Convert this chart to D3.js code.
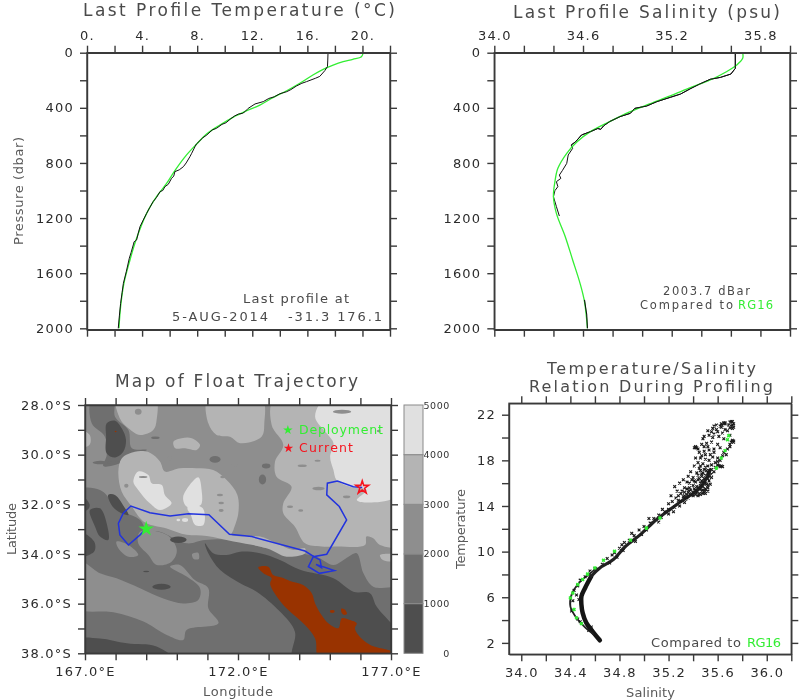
<!DOCTYPE html>
<html><head><meta charset="utf-8">
<script src="https://cdn.jsdelivr.net/npm/d3@7"></script>
<style>
html,body{margin:0;padding:0;background:#fff;}
svg{display:block;filter:blur(0.45px);}
text{font-family:"DejaVu Sans",sans-serif;}
.tick text{font-size:13px;letter-spacing:1.2px;fill:#2b2b2b;font-family:"DejaVu Sans",sans-serif;}
.tick line,.domain{stroke:#3a3a3a;stroke-width:1.4px;}
</style></head><body>
<svg id="chart" width="800" height="700"></svg>
<script>
// ---- profile data: temperature panel (value, pressure)
const tempObserved=[[17.5,0],[17.48,60],[17.46,100],[17.27,130],[16.9,172],[16.6,185],[15.94,210],[15.6,222],[15.2,242],[14.8,268],[14.5,283],[14.0,298],[13.6,320],[13.2,332],[12.8,355],[12.2,372],[11.7,404],[11.5,425],[11.3,440],[11.0,445],[10.7,460],[10.4,482],[10.1,508],[9.8,520],[9.4,549],[9.1,560],[8.7,597],[8.4,618],[8.2,638],[7.95,662],[7.84,682],[7.6,730],[7.47,755],[7.2,800],[7,827],[6.7,850],[6.38,863],[6.3,895],[6.14,912],[5.9,955],[5.66,972],[5.5,1000],[5.3,1008],[5.05,1050],[4.8,1081],[4.55,1125],[4.33,1166],[4.08,1215],[3.85,1262],[3.72,1310],[3.6,1359],[3.42,1372],[3.36,1395],[3.2,1450],[3.07,1492],[2.85,1590],[2.64,1674],[2.55,1740],[2.44,1819],[2.35,1910],[2.27,2000]];
const tempReference=[[20.05,0],[19.93,29],[19.3,48],[18.6,65],[17.87,90],[17.15,121],[16.4,162],[15.45,222],[14.5,276],[13.5,326],[12.55,380],[11.6,421],[10.6,469],[9.65,525],[8.68,590],[7.96,663],[7.23,742],[6.38,856],[5.78,948],[5.05,1045],[4.33,1166],[3.6,1347],[3.12,1504],[2.68,1674],[2.44,1843],[2.32,2000]];
// ---- profile data: salinity panel (value, pressure)
const salObservedUpper=[[35.63,0],[35.63,114],[35.6,155],[35.53,179],[35.46,193],[35.39,227],[35.33,259],[35.26,300],[35.19,324],[35.1,355],[35.03,387],[34.95,404],[34.92,440],[34.85,464],[34.78,500],[34.74,530],[34.72,556],[34.70,550],[34.65,573],[34.59,597],[34.55,646],[34.52,670],[34.53,694],[34.5,742],[34.49,803],[34.46,856],[34.44,888],[34.45,912],[34.42,936],[34.43,972],[34.41,1001],[34.4,1045],[34.42,1117],[34.44,1185]];
const salObservedDeep=[[34.61,1794],[34.625,1900],[34.63,2000]];
const salReference=[[35.68,0],[35.68,41],[35.64,89],[35.57,138],[35.46,198],[35.33,252],[35.19,314],[35.05,372],[34.92,428],[34.78,500],[34.65,573],[34.56,646],[34.49,730],[34.43,839],[34.41,936],[34.4,1045],[34.42,1166],[34.48,1335],[34.53,1504],[34.58,1674],[34.61,1806],[34.63,2000]];
// ---- axis ticks
const tempTicks=[0,2,4,6,8,10,12,14,16,18,20,22], tempLabels=[0,4,8,12,16,20];
const salTicks=[34,34.2,34.4,34.6,34.8,35,35.2,35.4,35.6,35.8,36], salLabels=[34,34.6,35.2,35.8];
const pressTicks=[0,200,400,600,800,1000,1200,1400,1600,1800,2000], pressLabels=[0,400,800,1200,1600,2000];
const lonTicks=[167,168,169,170,171,172,173,174,175,176,177], lonLabels=[167,172,177];
const latTicks=[28,29,30,31,32,33,34,35,36,37,38], latLabels=[28,30,32,34,36,38];
const tsSalTicks=[34,34.2,34.4,34.6,34.8,35,35.2,35.4,35.6,35.8,36,36.2], tsSalLabels=[34,34.4,34.8,35.2,35.6,36];
const tsTempTicks=[2,4,6,8,10,12,14,16,18,20,22], tsTempLabels=[2,6,10,14,18,22];
// ---- bathymetry (lon, south lat)
const depthLevels=[0,1000,2000,3000,4000,5000];
const levelColors=['#4e4e4e','#6f6f6f','#8e8e8e','#b4b4b4','#e0e0e0'];
const band1000Large=[[[166.7,31.49],[167.49,31.42],[167.98,32.03],[168.27,32.3],[168.8,32.63],[169.02,33.03],[169.45,33.1],[170.32,33.57],[170.92,33.44],[171.85,33.44],[172.94,33.77],[174.03,33.97],[174.57,34.11],[175.12,34.44],[175.61,34.11],[175.88,33.97],[176.1,34.78],[176.42,35.32],[177.3,35.45],[177.3,38.3],[166.7,38.3]],
 [[167.22,27.8],[167.93,27.8],[167.98,28.47],[168.42,29.01],[168.53,29.74],[169.02,29.81],[168.53,30.01],[168.14,30.35],[167.6,30.46],[167.71,30.01],[167.65,29.28],[167.22,28.74]]];
const band2000Patches=[[[166.7,34.2],[167.49,34.78],[168.03,34.98],[168.8,35.38],[169.56,35.79],[170.21,35.99],[170.7,35.85],[170.76,35.38],[170.32,34.91],[169.78,34.51],[170.1,34.44],[170.59,35.05],[171.03,35.38],[171.03,36.19],[171.36,36.79],[170.32,37.06],[170.21,37.46],[169.67,37.26],[168.91,36.72],[167.93,36.35],[166.7,36.15]],
 [[168.8,33.1],[169.67,33.23],[170,33.84],[169.83,34.31],[169.34,34.44],[169.07,34.04],[168.74,33.57]],
 [[168.03,33.5],[168.42,33.64],[168.74,34.04],[168.42,34.11],[168.09,33.77]],
 [[170.5,34.0],[170.7,33.95],[170.72,34.2],[170.55,34.2]]];
const band3000Regions=[[[173.21,27.7],[173.1,28.81],[173.48,29.61],[173.21,30.28],[173.26,30.89],[173.75,31.29],[173.48,31.96],[173.48,32.36],[173.86,32.9],[174.19,33.57],[174.73,33.7],[175.22,33.7],[176.15,33.64],[176.2,33.3],[176.42,33.37],[176.64,33.64],[177.3,33.64],[177.3,27.7]],
 [[171.03,27.7],[172.77,27.7],[172.86,28.74],[172.77,29.28],[172.07,29.54],[171.74,29.28],[171.3,29.21],[171.03,28.74]],
 [[169.89,29.48],[170.16,29.34],[170.49,29.34],[170.76,29.61],[170.65,29.81],[170.27,29.74],[169.95,29.74]],
 [[168.03,27.7],[169.29,27.7],[169.34,28.6],[169.23,29.01],[168.8,29.21],[168.42,28.94],[168.14,28.54]],
 [[166.8,29],[167.15,29.2],[167.15,29.6],[166.8,29.7]],
 [[176.64,34.05],[177.2,34.05],[177.2,34.25],[176.75,34.25]],
 [[168.09,30.68],[168.2,30.15],[168.63,29.88],[169.12,29.92],[169.45,30.28],[169.61,30.68],[170.1,30.55],[170.65,30.55],[171.19,30.62],[171.63,31.02],[171.98,31.62],[172.01,32.36],[171.85,33.03],[171.79,33.23],[172.72,33.3],[173.26,33.57],[173.81,33.84],[174.19,33.77],[174.19,33.97],[173.59,34.11],[172.94,33.77],[171.85,33.5],[170.98,33.28],[170.32,33.23],[169.67,32.97],[169.02,32.77],[168.8,32.56],[168.53,32.09],[168.2,31.49]]];
const band4000Regions=[[[174.9,27.7],[174.52,28.47],[174.9,29.14],[175.12,29.54],[175.01,30.08],[175.12,30.62],[175.22,31.02],[175.66,31.29],[176.2,31.42],[175.88,31.83],[176.2,31.93],[177.3,31.56],[177.3,27.7]],
 [[168.58,31.09],[168.74,30.68],[169.07,30.82],[169.18,31.15],[169.51,31.22],[169.61,31.62],[169.83,31.96],[169.45,32.23],[169.12,31.96],[168.74,31.42]],
 [[170.21,31.69],[170.7,30.91],[170.81,31.42],[170.78,32.03],[170.32,32.09]],
 [[170.38,32.03],[170.85,32.16],[170.87,32.83],[170.6,32.83],[170.45,32.4],[170.35,32.2]]];
const band0Regions=[[[170.92,33.57],[171.19,33.97],[171.63,34.04],[172.07,33.91],[172.72,33.97],[173.37,34.24],[174.03,34.64],[175.12,34.98],[175.77,35.52],[176.31,35.58],[176.53,36.12],[177.3,37.33],[177.3,38.3],[173.81,38.3],[173.86,37.13],[173.37,36.32],[172.61,35.52],[172.07,35.18],[171.41,34.64],[171.03,33.97]],
 [[166.7,37.46],[167.49,37.4],[168.37,37.6],[169.34,37.73],[169.95,38.3],[166.7,38.3]],
 [[167.71,28.74],[167.98,28.63],[168.2,28.94],[168.34,29.41],[168.25,29.88],[167.98,30.11],[167.71,29.95],[167.69,29.28]],
 [[167.76,31.62],[167.98,31.62],[168.31,32.16],[168.42,32.43],[168.1,32.3],[167.85,32]],
 [[167.16,32.23],[167.49,32.16],[167.71,32.77],[167.76,33.44],[167.49,33.3],[167.33,32.9]],
 [[166.8,31.56],[167.15,32],[167.1,32.2],[166.8,32.3]],
 [[166.8,33.1],[167.3,33.5],[167.3,33.9],[166.8,34.1]]];
const shallowLand=[[[172.66,34.54],[172.99,34.51],[173.15,34.85],[173.43,34.95],[173.7,35.09],[174.13,35.25],[174.41,35.58],[174.52,35.99],[174.73,36.46],[174.95,36.79],[175.28,36.99],[175.39,36.59],[175.66,36.66],[175.88,36.79],[175.82,36.99],[175.93,37.26],[176.31,37.66],[177.3,38.05],[177.3,38.3],[174.68,38.3],[174.52,37.4],[174.19,36.86],[173.48,36.05],[173.1,35.38],[173.05,35.18],[173.1,34.98],[172.83,34.78]],
 [[175.38,36.2],[175.5,36.25],[175.56,36.42],[175.45,36.45],[175.38,36.35]]];
const bathySpots=[[167.5,30.32,.25,.07,1],[171.25,30.19,.18,.14,1],[172.92,30.46,.14,.1,1],[172.8,31,.12,.2,1],[175.4,28.27,.3,.08,2],[170.05,33.43,.27,.13,0],[169.5,35.32,.3,.12,0],[169,34.71,.1,.03,0],[168.74,28.27,.11,.12,2],[171.41,31.62,.1,.05,2],[171.45,31.95,.09,.05,2],[171.45,32.25,.08,.06,2],[174.63,31.36,.2,.07,2],[174.1,30.45,.15,.05,2],[174.6,30.25,.1,.04,2],[175.55,31.7,.12,.06,2],[173.7,32.1,.1,.05,2],[174.05,32.25,.08,.05,2],[169.75,30.15,.08,.1,2],[168.9,30.9,.14,.04,2],[168.35,31.25,.07,.08,2],[171.5,30.9,.08,.05,2],[170.05,32.63,.06,.05,4],[170.27,32.63,.1,.08,4],[167.95,30.32,.18,.06,1],[169.3,29.32,.14,.05,1],[171.9,30.4,.1,.08,2],[176.6,29.05,.06,.05,2],[175.08,36.32,.08,.06,5],[168,29.07,.03,.03,5]];
// ---- float track (lon, south lat)
const trackPositions=[[169,32.99],[168.8,33.23],[168.42,33.64],[168.14,33.23],[168.09,32.77],[168.25,32.36],[168.5,32.07],[169.12,32.34],[169.78,32.47],[170.38,32.38],[171.05,32.42],[171.72,33.21],[172.45,33.3],[174.19,33.88],[174.48,34.11],[174.68,34.24],[174.73,34.55],[174.55,34.42],[175.15,34.67],[174.66,34.78],[174.3,34.51],[174.46,34.11],[174.9,34.01],[175.55,32.63],[175.31,32.09],[174.9,31.62],[174.92,31.15],[175.25,31.06],[175.77,31.29],[176.06,31.32]];
const deploymentPos=[169,32.99], currentPos=[176.06,31.32];
const legendDeployPos=[173.63,29.01], legendCurrentPos=[173.65,29.74];
// ---- T/S relation (salinity, temperature)
const tsColdCore=[[34.64,2.23],[34.59,2.88],[34.53,3.75],[34.5,4.63],[34.49,5.36],[34.49,6.09],[34.52,6.82],[34.57,7.84]];
const tsWarmCore=[[34.57,7.84],[34.64,8.57],[34.75,9.3],[34.85,10.47],[34.97,11.49],[35.1,12.8],[35.21,13.68],[35.32,14.55],[35.44,15.43],[35.51,16.45],[35.54,17.18]];
const tsBranch=[[34.59,2.73],[34.51,3.46],[34.44,4.34],[34.4,5.2],[34.41,6.23],[34.47,7.25],[34.55,8.0],[34.62,8.6]];
const tsProfiles=[[35.2,14.2],[35.23,14.4],[35.26,14.7],[35.22,14.9],[35.27,15.3],[35.25,15.7],[35.3,15.1],[35.32,14.8],[35.35,15],[35.38,15],[35.3,14.4],[35.34,14.6],[35.37,15.3],[35.33,15.6],[35.29,16],[35.32,16.3],[35.35,16.1],[35.4,15.2],[35.42,15.4],[35.45,15.1],[35.47,15.3],[35.5,15.5],[35.52,15.6],[35.48,15.7],[35.44,15.6],[35.4,15.8],[35.37,16],[35.42,16.1],[35.46,16],[35.5,16],[35.53,16.2],[35.49,16.4],[35.45,16.4],[35.4,16.5],[35.36,16.6],[35.38,17],[35.43,16.9],[35.47,16.8],[35.5,16.7],[35.52,16.9],[35.55,16.8],[35.57,17],[35.49,17.2],[35.45,17.3],[35.41,17.5],[35.44,17.8],[35.48,17.7],[35.52,17.5],[35.55,17.6],[35.62,17.45],[35.64,17.45],[35.46,18.2],[35.5,18.1],[35.53,18],[35.56,18.3],[35.6,18.2],[35.64,18.4],[35.67,18.5],[35.45,18.7],[35.49,18.8],[35.53,18.9],[35.57,19],[35.42,19.1],[35.43,19.1],[35.44,19],[35.47,19.4],[35.51,19.5],[35.55,19.6],[35.6,19.4],[35.62,19.1],[35.72,19.65],[35.73,19.7],[35.7,19.2],[35.48,19.9],[35.49,20.1],[35.53,20.2],[35.57,20.3],[35.61,20.1],[35.65,19.9],[35.7,20.2],[35.68,20.6],[35.52,20.6],[35.56,20.8],[35.59,20.7],[35.63,20.9],[35.57,21],[35.55,20.5],[35.65,21.3],[35.66,21.2],[35.64,21.1],[35.72,21.4],[35.71,21],[35.73,20.9],[35.7,20.85],[35.46,15.8],[35.43,15.2],[35.51,15.9],[35.49,15.2],[35.41,15.5],[35.47,16.2],[35.44,16.3],[35.52,16.4],[35.48,16.9],[35.5,17.4],[35.53,17.1],[35.46,17.1],[35.5,15.1],[35.44,14.9],[35.4,14.9],[35.36,14.7],[35.33,14.3],[35.29,14],[35.25,13.9],[35.2,13.7],[35.17,13.5],[35.12,13.2],[35.08,12.9],[35.14,13],[35.2,13.3],[35.05,12.5],[35,12.2],[34.96,11.9],[35.02,11.9],[34.92,11.4],[34.88,11],[34.84,10.8],[34.93,10.9],[34.8,10.3],[34.76,9.9],[34.83,10.1],[34.7,9.4],[34.78,9.5],[34.66,8.9],[34.72,9],[34.6,8.5],[34.56,8.3],[34.52,7.8],[34.48,7.5],[34.46,7],[34.43,6.6],[34.45,6.2],[34.47,5.8],[34.42,5.7],[34.41,4.8],[34.46,4.1],[34.48,3.85],[34.55,3.1],[34.57,3.4],[35.63,21.2],[35.72,19.75],[35.71,19.6],[35.63,17.5],[35.61,17.55],[35.42,19.2],[35.41,19.1],[35.7,21.35],[35.73,21.2],[35.46,15.5],[35.48,15.4],[35.5,15.3],[35.52,15.8],[35.49,16],[35.47,16.6],[35.51,17.1],[35.55,17.2],[35.53,16.6],[35.55,16.5],[35.43,15.7],[35.41,16.2],[35.44,16.7],[35.39,16.3],[35.37,15.6],[35.35,15.5],[35.33,15.2],[35.36,15.2],[35.31,15.3],[35.28,14.9],[35.28,14.5],[35.33,14.9],[35.38,15.4],[35.42,15],[35.46,15],[35.48,15.1],[35.52,15.3],[35.54,15.9],[35.46,17.5],[35.5,18.5],[35.54,18.5],[35.57,18.7],[35.58,17.8],[35.6,17.6],[35.52,19.2],[35.49,19.2],[35.56,20],[35.6,20.5],[35.64,20.4],[35.66,20.7],[35.59,21.1],[35.62,21],[35.69,21.1],[35.72,20.8],[35.72,21.1],[35.71,21.4],[35.66,21.3],[35.73,19.6],[35.7,19.4],[35.68,19],[35.65,18.7],[35.62,18],[35.6,17.9],[35.58,17.4],[35.42,18.2],[35.47,18.4],[35.15,13.7],[35.24,13.5],[35.12,12.6],[35.04,12.9],[34.98,11.5],[34.9,11.6],[34.82,10.6],[34.74,9.7]];
const tsReference=[[34.4,5.94],[34.42,6.38],[34.46,7.11],[34.5,7.55],[34.54,8.04],[34.6,8.57],[34.67,9.24],[34.76,10.03],[34.89,11],[35.02,12.07],[35.13,12.95],[35.59,17.33],[35.63,18.2],[35.66,18.85],[35.68,19.81],[35.69,20.16],[34.45,4.19],[34.49,3.69],[34.43,4.92]];

const svg=d3.select('#chart');
const GREEN='#33ee33', BLACK='#111', BLUE='#2233dd', RED='#f5141e';

function frame(g,x,y,xt,xl,yt,yl,xfmt,yfmt,labelSides){
  const fx=d=>xl.includes(d)?xfmt(d):'', fy=d=>yl.includes(d)?yfmt(d):'';
  const [x0,x1]=x.range(),[y0,y1]=[y.range()[0],y.range()[1]];
  const top=Math.min(y0,y1), bot=Math.max(y0,y1);
  const ax=(a,tr,f,vals)=>g.append('g').attr('transform',tr).call(a.tickValues(vals).tickSize(7).tickSizeOuter(0).tickPadding(6).tickFormat(f));
  ax(d3.axisTop(x),`translate(0,${top})`,labelSides.top?fx:()=>'',xt);
  ax(d3.axisBottom(x),`translate(0,${bot})`,labelSides.bottom?fx:()=>'',xt);
  ax(d3.axisLeft(y),`translate(${x0},0)`,fy,yt);
  ax(d3.axisRight(y),`translate(${x1},0)`,()=>'',yt);
  g.append('rect').attr('x',x0).attr('y',top).attr('width',x1-x0).attr('height',bot-top).attr('fill','none').attr('stroke','#3a3a3a').attr('stroke-width',1.4);
}
function label(t,x,y,w,opt={}){
  const e=svg.append('text').attr('x',x).attr('y',y).text(t)
    .attr('font-size',opt.size||13).attr('fill',opt.color||'#4a4a4a');
  if(w) e.attr('textLength',w).attr('lengthAdjust','spacing');
  if(opt.rotate) e.attr('transform',`rotate(-90 ${x} ${y})`);
  return e;
}
const profileLine=(x,y)=>d3.line().x(d=>x(d[0])).y(d=>y(d[1]));

// ---------- Panel 1: temperature
{
  const x=d3.scaleLinear([0,22],[87,390]), y=d3.scaleLinear([0,2010],[52.7,329.7]);
  const g=svg.append('g'), ln=profileLine(x,y), smooth=profileLine(x,y).curve(d3.curveCatmullRom);
  g.append('path').attr('d',smooth(tempReference)).attr('fill','none').attr('stroke',GREEN).attr('stroke-width',1.3);
  g.append('path').attr('d',ln(tempObserved)).attr('fill','none').attr('stroke',BLACK).attr('stroke-width',1);
  frame(g,x,y,tempTicks,tempLabels,pressTicks,pressLabels,d=>d+'.',d=>d,{top:true});
  label('Last Profile Temperature (°C)',83,16,312,{size:17});
  label('Pressure (dbar)',23,245,108,{size:13,color:'#5a5a5a',rotate:true});
  label('Last profile at',243,303,106,{size:13});
  label('5-AUG-2014   -31.3 176.1',172,321,210,{size:13}).attr('xml:space','preserve').style('white-space','pre');
}
// ---------- Panel 2: salinity
{
  const x=d3.scaleLinear([34,36],[494.3,790]), y=d3.scaleLinear([0,2010],[52.7,329.7]);
  const g=svg.append('g'), ln=profileLine(x,y), smooth=profileLine(x,y).curve(d3.curveCatmullRom);
  g.append('path').attr('d',ln(salObservedUpper)).attr('fill','none').attr('stroke',BLACK).attr('stroke-width',1);
  g.append('path').attr('d',smooth(salReference)).attr('fill','none').attr('stroke',GREEN).attr('stroke-width',1.3);
  g.append('path').attr('d',ln(salObservedUpper.slice(0,22))).attr('fill','none').attr('stroke',BLACK).attr('stroke-width',1);
  g.append('path').attr('d',ln(salObservedDeep)).attr('fill','none').attr('stroke',BLACK).attr('stroke-width',1.1);
  frame(g,x,y,salTicks,salLabels,pressTicks,pressLabels,d=>d.toFixed(1),d=>d,{top:true});
  label('Last Profile Salinity (psu)',513,18,267,{size:17});
  label('2003.7 dBar',663,295,87,{size:11.5});
  label('Compared to',640,309,93,{size:11.5});
  label('RG16',738,309,35,{size:11.5,color:GREEN});
}
// ---------- Panel 3: map
{
  const x=d3.scaleLinear([167,177],[85,391]), y=d3.scaleLinear([28,38],[405,653.3]);
  const g=svg.append('g');
  svg.append('clipPath').attr('id','mapClip').append('rect').attr('x',85).attr('y',405).attr('width',306).attr('height',248.3);
  const m=g.append('g').attr('clip-path','url(#mapClip)');
  m.append('rect').attr('x',85).attr('y',405).attr('width',306).attr('height',248.3).attr('fill',levelColors[2]);
  const area=d3.line().x(d=>x(d[0])).y(d=>y(d[1])).curve(d3.curveCatmullRomClosed.alpha(.5));
  const layer=(polys,c)=>m.append('g').selectAll('path').data(polys).join('path').attr('d',area).attr('fill',c);
  layer(band1000Large,levelColors[1]);
  layer(band2000Patches,levelColors[2]);
  layer(band3000Regions,levelColors[3]);
  layer(band4000Regions,levelColors[4]);
  layer(band0Regions,levelColors[0]);
  layer(shallowLand,'#993300');
  const spotColor=i=>i===5?'#993300':levelColors[i];
  m.append('g').selectAll('ellipse').data(bathySpots).join('ellipse')
    .attr('cx',d=>x(d[0])).attr('cy',d=>y(d[1])).attr('rx',d=>x(d[0]+d[2])-x(d[0])).attr('ry',d=>y(d[1]+d[3])-y(d[1])).attr('fill',d=>spotColor(d[4]));
  m.append('path').attr('d',d3.line().x(d=>x(d[0])).y(d=>y(d[1]))(trackPositions)).attr('fill','none').attr('stroke',BLUE).attr('stroke-width',1.5);
  const star=size=>d3.symbol(d3.symbolStar,size)();
  const place=p=>`translate(${x(p[0])},${y(p[1])})`;
  m.append('path').attr('d',star(75)).attr('transform',place(deploymentPos)).attr('fill',GREEN);
  m.append('path').attr('d',star(50)).attr('transform',place(currentPos)).attr('fill','none').attr('stroke',RED).attr('stroke-width',1.6);
  m.append('path').attr('d',star(28)).attr('transform',place(legendDeployPos)).attr('fill',GREEN);
  m.append('path').attr('d',star(28)).attr('transform',place(legendCurrentPos)).attr('fill',RED);
  frame(g,x,y,lonTicks,lonLabels,latTicks,latLabels,d=>d.toFixed(1)+'°E',d=>d.toFixed(1)+'°S',{bottom:true});
  label('Deployment',299,434,84,{size:12.5,color:'#33ee33'});
  label('Current',299,452,54,{size:12.5,color:RED});
  label('Map of Float Trajectory',115,387,243,{size:17});
  label('Longitude',203,696,70,{size:13,color:'#5a5a5a'});
  label('Latitude',16,555,52,{size:13,color:'#5a5a5a',rotate:true});
  // colour bar
  const cb=d3.scaleLinear([0,5000],[653.3,405]);
  svg.append('g').selectAll('rect').data(levelColors).join('rect')
    .attr('x',404).attr('width',19).attr('y',(d,i)=>cb(depthLevels[i+1])).attr('height',(d,i)=>cb(depthLevels[i])-cb(depthLevels[i+1]))
    .attr('fill',d=>d).attr('stroke','#8a8a8a').attr('stroke-width',1);
  svg.append('g').selectAll('text').data(depthLevels).join('text')
    .attr('x',450).attr('y',d=>cb(d)+3.5).attr('text-anchor','end').attr('font-size',9.5).attr('letter-spacing',.6).attr('fill','#333').text(d=>d);
}
// ---------- Panel 4: T/S
{
  const x=d3.scaleLinear([33.9,36.2],[509,791.3]), y=d3.scaleLinear([1,23],[654.3,403.3]);
  const g=svg.append('g'), ln=profileLine(x,y).curve(d3.curveCatmullRom);
  g.append('path').attr('d',ln(tsColdCore)).attr('fill','none').attr('stroke','#151515').attr('stroke-width',4.5).attr('stroke-linecap','round');
  g.append('path').attr('d',ln(tsWarmCore)).attr('fill','none').attr('stroke','#222').attr('stroke-width',3.2).attr('stroke-linecap','round');
  g.append('path').attr('d',ln(tsBranch)).attr('fill','none').attr('stroke','#222').attr('stroke-width',1.8);
  const cross='M-1.4,-1.4L1.4,1.4M-1.4,1.4L1.4,-1.4';
  g.append('g').selectAll('path').data(tsProfiles).join('path').attr('d',cross)
    .attr('transform',d=>`translate(${x(d[0])},${y(d[1])})`).attr('stroke','#1a1a1a').attr('stroke-width',1.1);
  g.append('g').selectAll('path').data(tsReference).join('path').attr('d',cross)
    .attr('transform',d=>`translate(${x(d[0])},${y(d[1])})`).attr('stroke',GREEN).attr('stroke-width',1.6);
  frame(g,x,y,tsSalTicks,tsSalLabels,tsTempTicks,tsTempLabels,d=>d.toFixed(1),d=>d,{bottom:true});
  label('Temperature/Salinity',547,374,209,{size:16});
  label('Relation During Profiling',529,392,244,{size:16});
  label('Salinity',626,697,49,{size:13,color:'#5a5a5a'});
  label('Temperature',465,569,80,{size:13,color:'#5a5a5a',rotate:true});
  label('Compared to',651,647,90,{size:13});
  label('RG16',747,647,34,{size:13,color:GREEN});
}
</script>
</body></html>
